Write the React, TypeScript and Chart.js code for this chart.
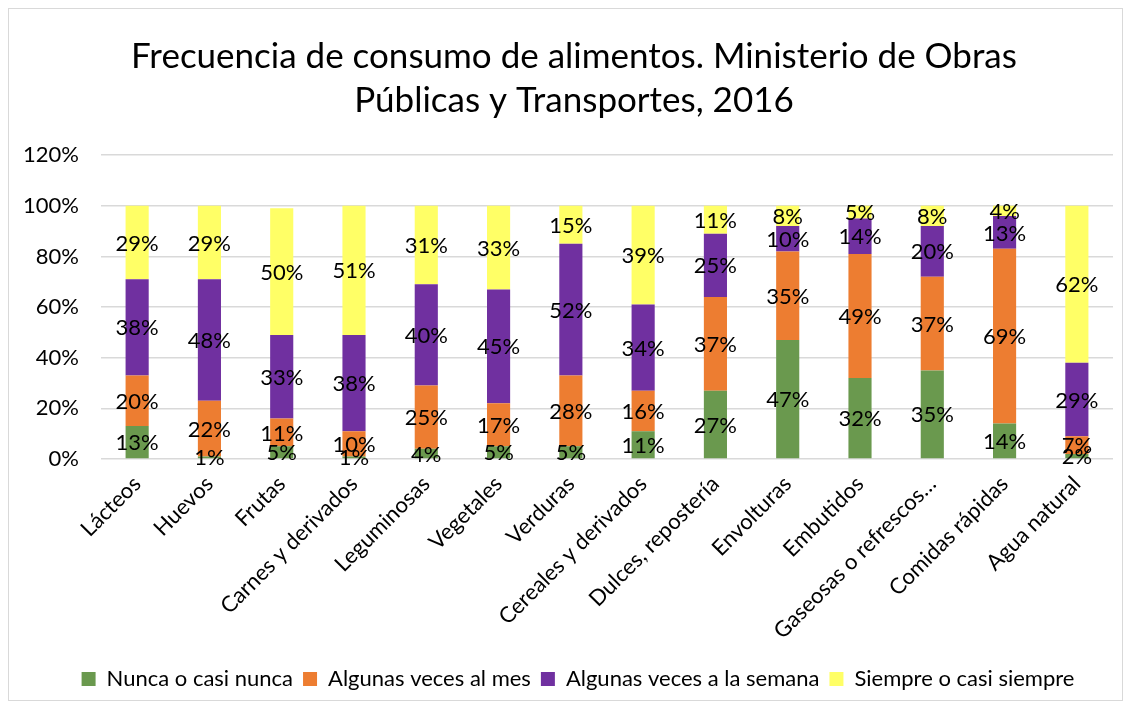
import React, { useEffect, useRef } from "react";
import { Chart, registerables } from "chart.js";
Chart.register(...registerables);

const categories = [
  "Lácteos",
  "Huevos",
  "Frutas",
  "Carnes y derivados",
  "Leguminosas",
  "Vegetales",
  "Verduras",
  "Cereales y derivados",
  "Dulces, repostería",
  "Envolturas",
  "Embutidos",
  "Gaseosas o refrescos…",
  "Comidas rápidas",
  "Agua natural",
];
const seriesNames = [
  "Nunca o casi nunca",
  "Algunas veces al mes",
  "Algunas veces a la semana",
  "Siempre o casi siempre",
];
const nunca = [13, 1, 5, 1, 4, 5, 5, 11, 27, 47, 32, 35, 14, 2];
const alMes = [20, 22, 11, 10, 25, 17, 28, 16, 37, 35, 49, 37, 69, 7];
const semana = [38, 48, 33, 38, 40, 45, 52, 34, 25, 10, 14, 20, 13, 29];
const siempre = [29, 29, 50, 51, 31, 33, 15, 39, 11, 8, 5, 8, 4, 62];
const colors = ["#6A994E", "#ED7D31", "#7030A0", "#FFFF66"];
const titleLines = [
  "Frecuencia de consumo de alimentos. Ministerio de Obras",
  "Públicas y Transportes, 2016",
];
const yMax = 120;
const yStep = 20;

const FONT = "Lato, 'Open Sans', sans-serif";

const labelPlugin = {
  id: "segLabels",
  afterDatasetsDraw(chart: any) {
    const ctx = chart.ctx;
    ctx.save();
    ctx.font = `22px ${FONT}`;
    ctx.fillStyle = "#000";
    ctx.textAlign = "center";
    ctx.textBaseline = "middle";
    chart.data.datasets.forEach((ds: any, di: number) => {
      const meta = chart.getDatasetMeta(di);
      meta.data.forEach((el: any, i: number) => {
        const v = ds.data[i];
        const props = el.getProps(["x", "y", "base"], true);
        const cy = (props.y + props.base) / 2;
        ctx.fillText(`${v}%`, props.x, cy + 1);
      });
    });
    ctx.restore();
  },
};

const shiftPlugin = {
  id: "shiftBlocks",
  afterLayout(chart: any) {
    if (chart.titleBlock) {
      chart.titleBlock.left += 26;
    }
    if (chart.legend) {
      chart.legend.left += 17;
      chart.legend.right += 17;
    }
  },
};

export default function App() {
  const ref = useRef<HTMLCanvasElement>(null);
  useEffect(() => {
    if (!ref.current) return;
    const data = [nunca, alMes, semana, siempre];
    const chart = new Chart(ref.current, {
      type: "bar",
      data: {
        labels: categories,
        datasets: seriesNames.map((n, i) => ({
          label: n,
          data: data[i],
          backgroundColor: colors[i],
          borderWidth: 0,
          categoryPercentage: 0.8,
          barPercentage: 0.4,
        })),
      },
      options: {
        animation: false,
        responsive: false,
        maintainAspectRatio: false,
        layout: { padding: { left: 0, right: 9, top: 0, bottom: 0 } },
        plugins: {
          title: {
            display: true,
            text: titleLines,
            color: "#000",
            font: { family: FONT, size: 35, weight: "normal", lineHeight: 1.26 },
            padding: { top: 26, bottom: 32 },
          },
          legend: {
            position: "bottom",
            labels: {
              color: "#000",
              font: { family: FONT, size: 22 },
              boxWidth: 14,
              boxHeight: 14,
              padding: 10,
            },
          },
          tooltip: { enabled: false },
        },
        scales: {
          x: {
            stacked: true,
            grid: { display: false },
            border: { display: false },
            ticks: {
              color: "#000",
              font: { family: FONT, size: 22 },
              minRotation: 45,
              maxRotation: 45,
              autoSkip: false,
              padding: 4,
            },
            afterFit: (s: any) => {
              s.height = 199;
            },
          },
          y: {
            stacked: true,
            min: 0,
            max: yMax,
            grid: { color: "#D9D9D9", lineWidth: 1.5, drawTicks: false },
            border: { display: false },
            ticks: {
              stepSize: yStep,
              color: "#000",
              font: { family: FONT, size: 22 },
              padding: 22,
              callback: (v: any) => `${v}%`,
            },
            afterFit: (s: any) => {
              s.width = 92;
            },
          },
        },
      },
      plugins: [labelPlugin, shiftPlugin],
    });
    return () => chart.destroy();
  }, []);
  return (
    <div
      style={{
        width: 1113,
        height: 691,
        border: "1px solid #D9D9D9",
        background: "#fff",
      }}
    >
      <canvas ref={ref} width={1113} height={691} style={{ display: "block" }} />
    </div>
  );
}
